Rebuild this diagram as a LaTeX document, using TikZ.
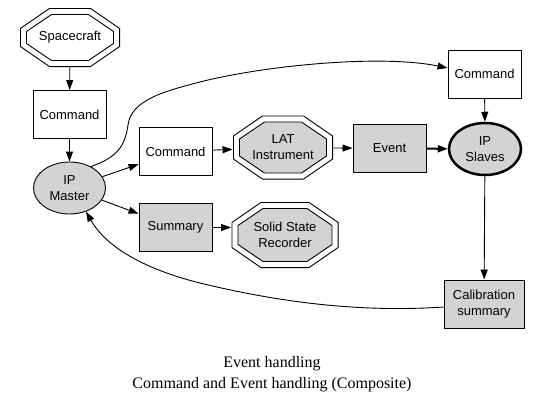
\documentclass[tikz,border=0pt]{standalone}
\usepackage{fontspec}
\setmainfont{Liberation Serif}
\setsansfont{Liberation Sans}
\usetikzlibrary{shapes.geometric,arrows.meta}
\definecolor{lgrey}{RGB}{211,211,211}
% octagon inside the path picture box: inset, chamfer x, chamfer y
\newcommand\octagonpath[3]{([xshift=#1+#2, yshift=-#1]path picture bounding box.north west)
    -- ([xshift=-#1-#2, yshift=-#1]path picture bounding box.north east)
    -- ([xshift=-#1, yshift=-#1-#3]path picture bounding box.north east)
    -- ([xshift=-#1, yshift=#1+#3]path picture bounding box.south east)
    -- ([xshift=-#1-#2, yshift=#1]path picture bounding box.south east)
    -- ([xshift=#1+#2, yshift=#1]path picture bounding box.south west)
    -- ([xshift=#1, yshift=#1+#3]path picture bounding box.south west)
    -- ([xshift=#1, yshift=-#1-#3]path picture bounding box.north west) -- cycle}
\begin{document}
\begin{tikzpicture}[x=1pt, y=-1pt, line width=0.9pt, >={Triangle[length=10pt,width=7pt]},
    every node/.style={font=\sffamily\fontsize{13}{16}\selectfont, align=center, inner sep=0pt},
    box/.style={rectangle, draw, minimum width=73pt, minimum height=48pt},
    grey/.style={fill=lgrey},
    octo/.style={rectangle, path picture={
        \draw \octagonpath{0.45pt}{29pt}{20pt};
        \draw[fill=#1] \octagonpath{6.5pt}{25pt}{17pt};}},
    octo/.default=white,
    ellip/.style={ellipse, draw, fill=lgrey, minimum width=72pt, minimum height=52pt}]
    \useasboundingbox (0,0) rectangle (543,407);
    \node[octo, minimum width=100pt, minimum height=59pt] (sc) at (70,37.5) {Spacecraft};
    \node[box] (cmdA) at (69.5,114.5) {Command};
    \node[ellip] (ipm) at (69.5,188) {IP\\Master};
    \node[box] (cmdB) at (175.5,151.5) {Command};
    \node[box, grey] (sum) at (175.5,227.5) {Summary};
    \node[octo=lgrey, minimum width=100pt, minimum height=64pt] (lat) at (283,147.5) {LAT\\Instrument};
    \node[octo=lgrey, minimum width=107pt, minimum height=66pt] (ssr) at (285,235) {Solid State\\Recorder};
    \node[box, grey] (evt) at (389.5,148.5) {Event};
    \node[ellip, line width=2.5pt] (ips) at (485,149) {IP\\Slaves};
    \node[box] (cmdC) at (484.5,74) {Command};
    \node[box, grey, minimum width=80pt] (cal) at (484,304) {Calibration\\summary};
    \node[font=\rmfamily\fontsize{16}{21}\selectfont] (cap) at (272,374) {Event handling\\Command and Event handling (Composite)};
    % straight edges
    \draw[->] (sc) -- (cmdA);
    \draw[->] (cmdA) -- (ipm);
    \draw[->] (ipm) -- (cmdB);
    \draw[->] (ipm) -- (sum);
    \draw[->] (cmdB) -- (lat);
    \draw[->] (lat) -- (evt);
    \draw[->, line width=2pt] (evt) -- (ips);
    \draw[->] (cmdC) -- (ips);
    \draw[->] (ips) -- (cal);
    \draw[->] (sum) -- (sum -| ssr.west);
    % curved edges
    \draw[->] (ipm.45) .. controls (115,158) and (125,148) .. (128,125)
        .. controls (131,100) and (165,91) .. (200,82)
        .. controls (262,66) and (380,54) .. ([yshift=6pt]cmdC.west);
    \draw[->] ([yshift=-3pt]cal.west) .. controls (370,312) and (290,305) .. (200,283)
        .. controls (140,268) and (105,245) .. (ipm.-55);
\end{tikzpicture}
\end{document}
